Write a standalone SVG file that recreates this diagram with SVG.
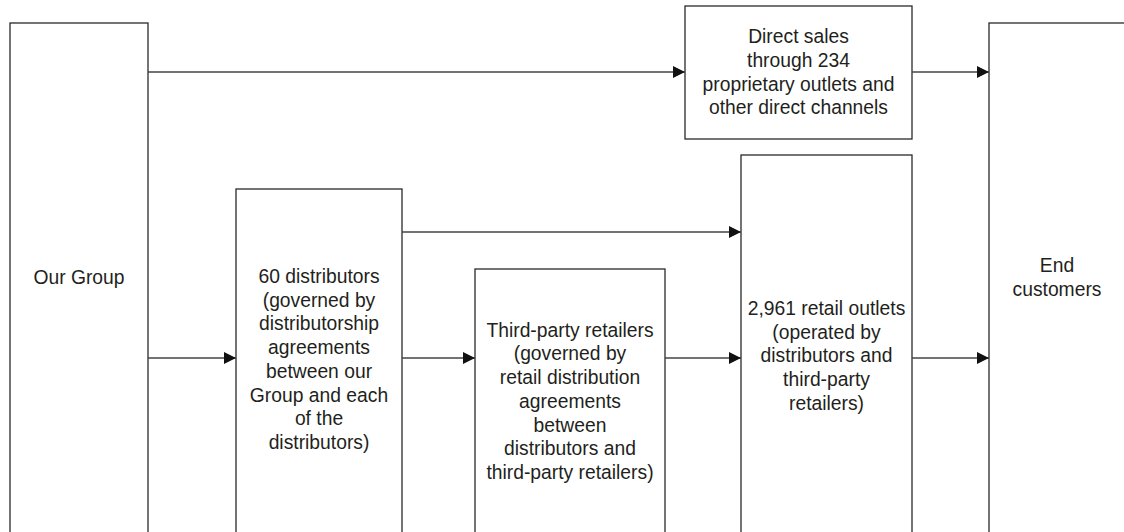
<svg xmlns="http://www.w3.org/2000/svg" width="1124" height="532" viewBox="0 0 1124 532">
<style>
.box{fill:#ffffff;stroke:#2a2a2a;stroke-width:1.3}
.lbl{font-family:"Liberation Sans",Arial,Helvetica,sans-serif;font-size:19.3px;fill:#231f20;text-anchor:middle}
.con{fill:none;stroke:#444;stroke-width:1.4}
</style>
<defs>
<marker id="ah" viewBox="0 0 12 12" refX="12" refY="6" markerWidth="12" markerHeight="12" markerUnits="userSpaceOnUse" orient="auto">
<path d="M0,0 L12,6 L0,12 Z" fill="#111"/>
</marker>
</defs>
<rect width="1124" height="532" fill="#ffffff"/>
<g id="our-group">
<rect class="box" x="10" y="23" width="138" height="520"/>
<text class="lbl" x="79" y="284">Our Group</text>
</g>
<g id="direct-sales">
<rect class="box" x="685" y="6" width="227" height="133"/>
<text class="lbl" x="798.5" y="43">Direct sales</text>
<text class="lbl" x="798.5" y="67">through 234</text>
<text class="lbl" x="798.5" y="90.5">proprietary outlets and</text>
<text class="lbl" x="798.5" y="114">other direct channels</text>
</g>
<g id="end-customers">
<rect class="box" x="989" y="23" width="145" height="520"/>
<text class="lbl" x="1057" y="272">End</text>
<text class="lbl" x="1057" y="295.5">customers</text>
</g>
<g id="distributors">
<rect class="box" x="236" y="189" width="166" height="360"/>
<text class="lbl" x="319" y="283">60 distributors</text>
<text class="lbl" x="319" y="306.7">(governed by</text>
<text class="lbl" x="319" y="330.4">distributorship</text>
<text class="lbl" x="319" y="354">agreements</text>
<text class="lbl" x="319" y="377.8">between our</text>
<text class="lbl" x="319" y="401.5">Group and each</text>
<text class="lbl" x="319" y="425.2">of the</text>
<text class="lbl" x="319" y="448.9">distributors)</text>
</g>
<g id="third-party-retailers">
<rect class="box" x="475" y="269" width="190" height="280"/>
<text class="lbl" x="570" y="336.7">Third-party retailers</text>
<text class="lbl" x="570" y="360.4">(governed by</text>
<text class="lbl" x="570" y="384.1">retail distribution</text>
<text class="lbl" x="570" y="407.8">agreements</text>
<text class="lbl" x="570" y="431.5">between</text>
<text class="lbl" x="570" y="455.2">distributors and</text>
<text class="lbl" x="570" y="478.9">third-party retailers)</text>
</g>
<g id="retail-outlets">
<rect class="box" x="741" y="155" width="171" height="390"/>
<text class="lbl" x="826.5" y="315">2,961 retail outlets</text>
<text class="lbl" x="826.5" y="338.7">(operated by</text>
<text class="lbl" x="826.5" y="362.4">distributors and</text>
<text class="lbl" x="826.5" y="386.1">third-party</text>
<text class="lbl" x="826.5" y="409.8">retailers)</text>
</g>
<g id="connectors">
<line class="con" x1="148" y1="72" x2="685" y2="72" marker-end="url(#ah)"/>
<line class="con" x1="912" y1="72" x2="989" y2="72" marker-end="url(#ah)"/>
<line class="con" x1="402" y1="232" x2="741" y2="232" marker-end="url(#ah)"/>
<line class="con" x1="148" y1="358" x2="236" y2="358" marker-end="url(#ah)"/>
<line class="con" x1="402" y1="358" x2="475" y2="358" marker-end="url(#ah)"/>
<line class="con" x1="665" y1="358" x2="741" y2="358" marker-end="url(#ah)"/>
<line class="con" x1="912" y1="358" x2="989" y2="358" marker-end="url(#ah)"/>
</g>
</svg>
